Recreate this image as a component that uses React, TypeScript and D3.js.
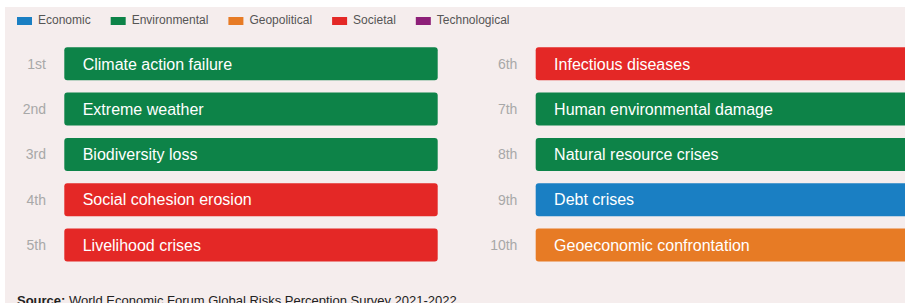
import React, { useEffect, useRef } from "react";
import * as d3 from "d3";

const categories = ["Economic", "Environmental", "Geopolitical", "Societal", "Technological"];
const categoryColors = ["#1a7fc3", "#0d8348", "#e77b25", "#e42826", "#8d1f78"];
const ranks = ["1st", "2nd", "3rd", "4th", "5th", "6th", "7th", "8th", "9th", "10th"];
const risks = [
  "Climate action failure",
  "Extreme weather",
  "Biodiversity loss",
  "Social cohesion erosion",
  "Livelihood crises",
  "Infectious diseases",
  "Human environmental damage",
  "Natural resource crises",
  "Debt crises",
  "Geoeconomic confrontation",
];
const riskCategories = [
  "Environmental",
  "Environmental",
  "Environmental",
  "Societal",
  "Societal",
  "Societal",
  "Environmental",
  "Environmental",
  "Economic",
  "Geoeconomic" === "" ? "" : "Geopolitical",
];
const sourceLabel = "Source:";
const sourceText = " World Economic Forum Global Risks Perception Survey 2021-2022";

const W = 905;
const H = 303;
const FONT = "'Liberation Sans', Arial, Helvetica, sans-serif";

export default function App() {
  const ref = useRef<SVGSVGElement | null>(null);

  useEffect(() => {
    const svg = d3.select(ref.current);
    svg.selectAll("*").remove();

    const color = d3.scaleOrdinal<string, string>().domain(categories).range(categoryColors);

    // background panel
    svg.append("rect").attr("x", 0).attr("y", 0).attr("width", W).attr("height", H).attr("fill", "#ffffff");
    svg.append("rect").attr("x", 5).attr("y", 7).attr("width", W - 5).attr("height", H - 7).attr("fill", "#f5eded");

    // legend
    const legend = svg.append("g").attr("transform", "translate(17,0)");
    let lx = 0;
    categories.forEach((c) => {
      const g = legend.append("g").attr("transform", `translate(${lx},0)`);
      g.append("rect").attr("x", 0).attr("y", 17).attr("width", 15).attr("height", 8).attr("fill", color(c));
      const t = g
        .append("text")
        .attr("x", 21)
        .attr("y", 24.3)
        .attr("font-family", FONT)
        .attr("font-size", 12)
        .attr("fill", "#555555")
        .text(c);
      const tw = (t.node() as SVGTextElement).getComputedTextLength();
      lx += 21 + tw + 20;
    });

    // bars
    const perCol = 5;
    const col = d3.scaleOrdinal<number, number>().domain([0, 1]).range([64.3, 535.7]);
    const y = d3
      .scaleBand<number>()
      .domain(d3.range(perCol))
      .range([47.3, 261.5])
      .paddingInner(0.2715)
      .paddingOuter(0);
    const barW = 373.4;

    const data = risks.map((r, i) => ({
      risk: r,
      rank: ranks[i],
      cat: riskCategories[i],
      c: Math.floor(i / perCol),
      r: i % perCol,
    }));

    const rows = svg
      .selectAll("g.row")
      .data(data)
      .enter()
      .append("g")
      .attr("class", "row")
      .attr("transform", (d) => `translate(${col(d.c)},${y(d.r)})`);

    rows
      .append("rect")
      .attr("x", 0)
      .attr("y", 0)
      .attr("width", barW)
      .attr("height", y.bandwidth())
      .attr("rx", 3)
      .attr("fill", (d) => color(d.cat));

    rows
      .append("text")
      .attr("x", 18.4)
      .attr("y", y.bandwidth() / 2 + 5.8)
      .attr("font-family", FONT)
      .attr("font-size", 16)
      .attr("fill", "#ffffff")
      .text((d) => d.risk);

    rows
      .append("text")
      .attr("x", -18.3)
      .attr("y", y.bandwidth() / 2 + 5)
      .attr("text-anchor", "end")
      .attr("font-family", FONT)
      .attr("font-size", 14)
      .attr("fill", "#a8a8a8")
      .text((d) => d.rank);

    // source
    const src = svg
      .append("text")
      .attr("x", 17)
      .attr("y", 304.5)
      .attr("font-family", FONT)
      .attr("font-size", 13)
      .attr("fill", "#222222");
    src.append("tspan").attr("font-weight", "bold").text(sourceLabel);
    src.append("tspan").attr("xml:space", "preserve").text(sourceText);
  }, []);

  return (
    <div style={{ position: "absolute", left: 0, top: 0, width: W, height: H, overflow: "hidden" }}>
      <svg ref={ref} width={W} height={H} style={{ display: "block" }} />
    </div>
  );
}
